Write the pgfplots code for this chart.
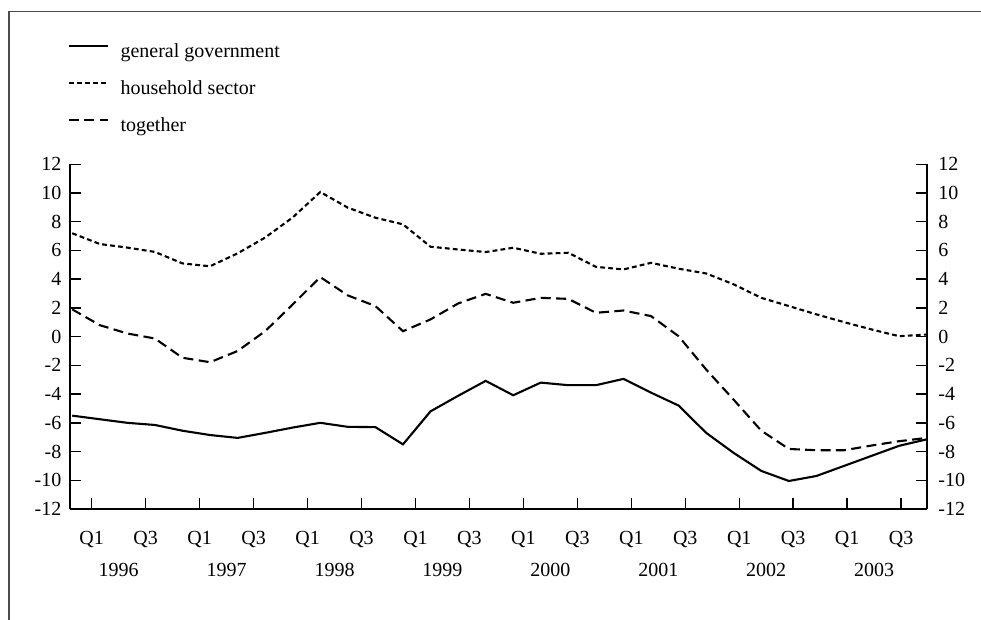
\documentclass[border=0pt]{standalone}
\usepackage{fontspec}
\setmainfont{Liberation Serif}
\usepackage{pgfplots}
\pgfplotsset{compat=1.18}
\usepackage{pgfplotstable}

% Net financial balance by sector, per cent of GDP, quarterly 1996 Q1 - 2003 Q4
% k: quarter index (0 = 1996 Q1), gg: general government, hh: household sector, tg: together
\pgfplotstableread{
k   gg      hh     tg
0   -5.50   7.20   1.90
1   -5.75   6.45   0.80
2   -6.00   6.20   0.22
3   -6.15   5.90  -0.13
4   -6.55   5.10  -1.47
5   -6.85   4.90  -1.78
6   -7.05   5.80  -1.00
7   -6.70   6.90   0.38
8   -6.33   8.30   2.24
9   -6.00  10.07   4.15
10  -6.28   8.98   2.87
11  -6.30   8.28   2.13
12  -7.50   7.82   0.38
13  -5.20   6.26   1.20
14  -4.12   6.07   2.31
15  -3.08   5.89   2.98
16  -4.08   6.19   2.36
17  -3.20   5.77   2.70
18  -3.38   5.84   2.63
19  -3.38   4.86   1.66
20  -2.94   4.68   1.82
21  -3.90   5.14   1.43
22  -4.80   4.73   0.03
23  -6.70   4.40  -2.29
24  -8.10   3.64  -4.40
25  -9.35   2.70  -6.55
26  -10.05  2.13  -7.82
27  -9.70   1.55  -7.91
28  -9.00   1.01  -7.91
29  -8.30   0.50  -7.58
30  -7.60   0.03  -7.28
31  -7.15   0.15  -7.05
}\balance

\newcommand{\lblfont}{\fontsize{10bp}{12bp}\selectfont}

\begin{document}
\lblfont
\begin{tikzpicture}
\path[use as bounding box] (0,0) rectangle (490.5bp,310bp);
% outer frame (left and top edges)
\draw[black!70, line width=0.75bp] (4.5bp,0) -- (4.5bp,304.2bp) -- (491bp,304.2bp);

\pgfplotsset{
  common/.style={
    scale only axis,
    width=428.35bp, height=172.35bp,
    at={(35bp,55.5bp)}, anchor=south west,
    xmin=-0.08, xmax=31,
    ymin=-12, ymax=12,
    ytick={-12,-10,...,12},
    yticklabels={-12,-10,-8,-6,-4,-2,0,2,4,6,8,10,12},
    tick align=inside,
    major tick length=5.6bp,
    tick style={black, line width=0.7bp},
    axis line style={black, line width=0.8bp},
    ticklabel style={font=\lblfont},
  }
}

\begin{axis}[
  common,
  axis y line*=left,
  axis x line*=bottom,
  xtick={0.7075,2.6651,4.6227,6.5803,8.5379,10.4955,12.4531,14.4107,
         16.3683,18.3259,20.2835,22.2411,24.1987,26.1563,28.1139,30.0715},
  xticklabels={Q1,Q3,Q1,Q3,Q1,Q3,Q1,Q3,Q1,Q3,Q1,Q3,Q1,Q3,Q1,Q3},
  xticklabel style={anchor=base, yshift=-17.8bp},
  yticklabel style={inner xsep=0pt, anchor=east, xshift=-4.15bp},
  clip=false,
  legend cell align=left,
  legend style={
    at={(axis description cs:-0.0023,1.3693)}, anchor=north west,
    draw=none, fill=none, inner sep=0pt, outer sep=0pt,
    row sep=6.8bp,
    nodes={inner sep=0pt, outer sep=0pt},
    font=\lblfont,
  },
  legend image code/.code={
    \path (0bp,-2.2bp) (25.2bp,7bp);
    \draw[#1] (0bp,3bp) -- (19.5bp,3bp);
  },
]
\addplot[black, line width=1.05bp] table[x=k, y=gg] {\balance};
\addlegendentry{general government}
\addplot[black, line width=1.05bp, dash pattern=on 2.4bp off 1.6bp] table[x=k, y=hh] {\balance};
\addlegendentry{household sector}
\addplot[black, line width=1.05bp, dash pattern=on 5bp off 2.7bp] table[x=k, y=tg] {\balance};
\addlegendentry{together}

% year labels centred under each Q1/Q3 pair
\node[anchor=base, font=\lblfont] at (axis cs:1.6863,-12)  [yshift=-33.8bp] {1996};
\node[anchor=base, font=\lblfont] at (axis cs:5.6015,-12)  [yshift=-33.8bp] {1997};
\node[anchor=base, font=\lblfont] at (axis cs:9.5167,-12)  [yshift=-33.8bp] {1998};
\node[anchor=base, font=\lblfont] at (axis cs:13.4319,-12) [yshift=-33.8bp] {1999};
\node[anchor=base, font=\lblfont] at (axis cs:17.3471,-12) [yshift=-33.8bp] {2000};
\node[anchor=base, font=\lblfont] at (axis cs:21.2623,-12) [yshift=-33.8bp] {2001};
\node[anchor=base, font=\lblfont] at (axis cs:25.1775,-12) [yshift=-33.8bp] {2002};
\node[anchor=base, font=\lblfont] at (axis cs:29.0927,-12) [yshift=-33.8bp] {2003};
\end{axis}

% right-hand scale
\begin{axis}[
  common,
  axis y line*=right,
  axis x line=none,
  xtick=\empty,
  yticklabel style={inner xsep=0pt, anchor=west, xshift=5.65bp},
]
\end{axis}
\end{tikzpicture}
\end{document}
